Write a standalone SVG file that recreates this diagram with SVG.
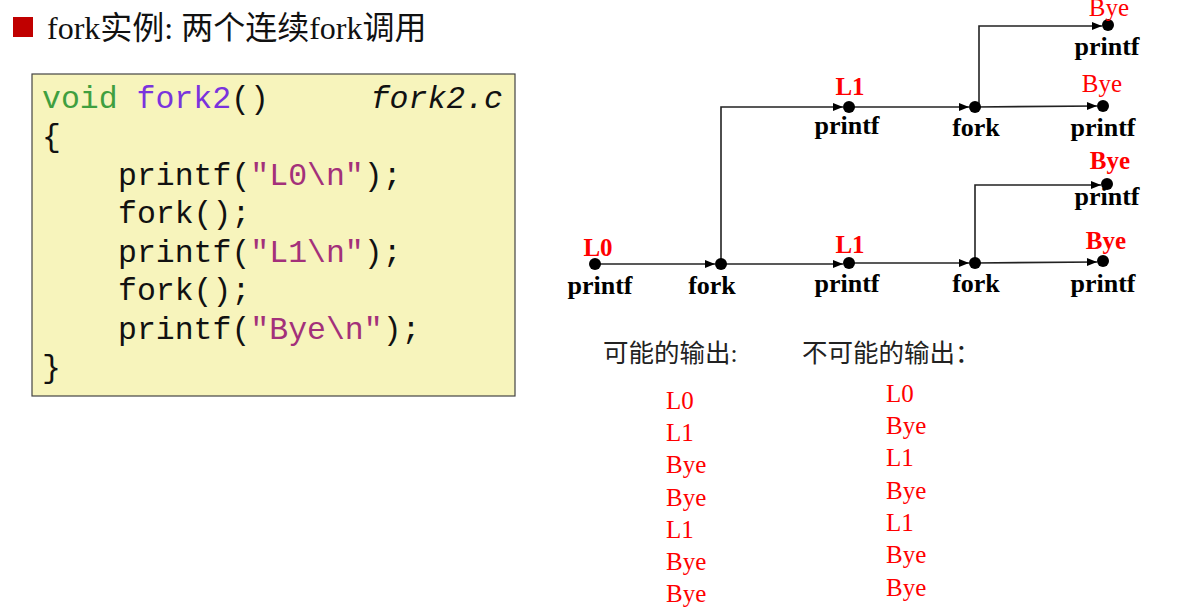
<svg xmlns="http://www.w3.org/2000/svg" width="1193" height="612" viewBox="0 0 1193 612">
<defs>
<marker id="arr" viewBox="0 0 10 10" refX="10" refY="5" markerWidth="11" markerHeight="10" markerUnits="userSpaceOnUse" orient="auto">
<path d="M0,1 L10,5 L0,9 z" fill="#000"/>
</marker>
<style>
.code{font-family:"Liberation Mono","DejaVu Sans Mono",monospace;font-size:31.5px;fill:#111;}
.kw{fill:#3f9f3f;}
.fn{fill:#7a33dd;}
.str{fill:#a3307a;}
.lbl{font-family:"Liberation Serif","Times New Roman",serif;font-weight:bold;font-size:26px;fill:#000;text-anchor:middle;}
.red{font-family:"Liberation Serif","Times New Roman",serif;font-size:25px;fill:#ff0000;text-anchor:middle;}
.redb{font-family:"Liberation Serif","Times New Roman",serif;font-weight:bold;font-size:25px;fill:#ff0000;text-anchor:middle;}
.out{font-family:"Liberation Serif","Times New Roman",serif;font-size:25px;fill:#ff0000;}
.cjk{font-family:"Liberation Serif","Noto Sans CJK SC",serif;font-size:25.5px;fill:#222;}
.edge{fill:none;stroke:#222;stroke-width:1.6;}
.dot{fill:#000;}
</style>
</defs>
<rect width="1193" height="612" fill="#fff"/>

<g id="title">
<rect x="13" y="17" width="20" height="20" fill="#c00000"/>
<text x="47" y="39" font-family="Liberation Serif,Noto Sans CJK SC,serif" font-size="32" fill="#111">fork实例: 两个连续fork调用</text>
</g>

<g id="code">
<rect x="32" y="74" width="483" height="322" fill="#f7f4bc" stroke="#444" stroke-width="1.2"/>
<text class="code" x="42" y="108"><tspan class="kw">void</tspan> <tspan class="fn">fork2</tspan>()</text>
<text class="code" x="503" y="108" text-anchor="end" font-style="italic">fork2.c</text>
<text class="code" x="42" y="146">{</text>
<text class="code" x="118" y="185">printf(<tspan class="str">"L0\n"</tspan>);</text>
<text class="code" x="118" y="223">fork();</text>
<text class="code" x="118" y="262">printf(<tspan class="str">"L1\n"</tspan>);</text>
<text class="code" x="118" y="300">fork();</text>
<text class="code" x="118" y="339">printf(<tspan class="str">"Bye\n"</tspan>);</text>
<text class="code" x="42" y="377">}</text>
</g>

<g id="connectors">
<path class="edge" d="M595,264 L715,264" marker-end="url(#arr)"/>
<path class="edge" d="M721,264 L843,264" marker-end="url(#arr)"/>
<path class="edge" d="M849,263 L969,263" marker-end="url(#arr)"/>
<path class="edge" d="M975,263 L1097,262" marker-end="url(#arr)"/>
<path class="edge" d="M975,263 L975,185 L1101,185" marker-end="url(#arr)"/>
<path class="edge" d="M721,264 L721,107 L843,107" marker-end="url(#arr)"/>
<path class="edge" d="M849,107 L969,107" marker-end="url(#arr)"/>
<path class="edge" d="M975,107 L1097,106" marker-end="url(#arr)"/>
<path class="edge" d="M979,107 L979,26 L1102,26" marker-end="url(#arr)"/>
</g>

<g id="n_l0"><circle class="dot" cx="595" cy="264" r="6"/><text class="redb" x="598" y="256">L0</text><text class="lbl" x="600" y="294">printf</text></g>
<g id="n_fork1"><circle class="dot" cx="721" cy="264" r="6"/><text class="lbl" x="712" y="294">fork</text></g>
<g id="n_l1a"><circle class="dot" cx="849" cy="263" r="6"/><text class="redb" x="850" y="253">L1</text><text class="lbl" x="847" y="292">printf</text></g>
<g id="n_fork2a"><circle class="dot" cx="975" cy="263" r="6"/><text class="lbl" x="976" y="292">fork</text></g>
<g id="n_bye1"><circle class="dot" cx="1103" cy="261" r="6"/><text class="redb" x="1106" y="249">Bye</text><text class="lbl" x="1103" y="292">printf</text></g>
<g id="n_bye2"><circle class="dot" cx="1107" cy="184" r="6"/><text class="redb" x="1110" y="169">Bye</text><text class="lbl" x="1107" y="205">printf</text></g>
<g id="n_l1b"><circle class="dot" cx="849" cy="107" r="6"/><text class="redb" x="850" y="95">L1</text><text class="lbl" x="847" y="134">printf</text></g>
<g id="n_fork2b"><circle class="dot" cx="975" cy="107" r="6"/><text class="lbl" x="976" y="136">fork</text></g>
<g id="n_bye3"><circle class="dot" cx="1103" cy="106" r="6"/><text class="red" x="1102" y="92">Bye</text><text class="lbl" x="1103" y="136">printf</text></g>
<g id="n_bye4"><circle class="dot" cx="1108" cy="25" r="6"/><text class="red" x="1109" y="16">Bye</text><text class="lbl" x="1107" y="55">printf</text></g>

<g id="outputs">
<text class="cjk" x="603" y="362">可能的输出:</text>
<text class="cjk" x="802" y="362">不可能的输出：</text>
<text class="out" x="666" y="409">L0</text>
<text class="out" x="666" y="441">L1</text>
<text class="out" x="666" y="473">Bye</text>
<text class="out" x="666" y="506">Bye</text>
<text class="out" x="666" y="538">L1</text>
<text class="out" x="666" y="570">Bye</text>
<text class="out" x="666" y="602">Bye</text>
<text class="out" x="886" y="402">L0</text>
<text class="out" x="886" y="434">Bye</text>
<text class="out" x="886" y="466">L1</text>
<text class="out" x="886" y="499">Bye</text>
<text class="out" x="886" y="531">L1</text>
<text class="out" x="886" y="563">Bye</text>
<text class="out" x="886" y="596">Bye</text>
</g>
</svg>
